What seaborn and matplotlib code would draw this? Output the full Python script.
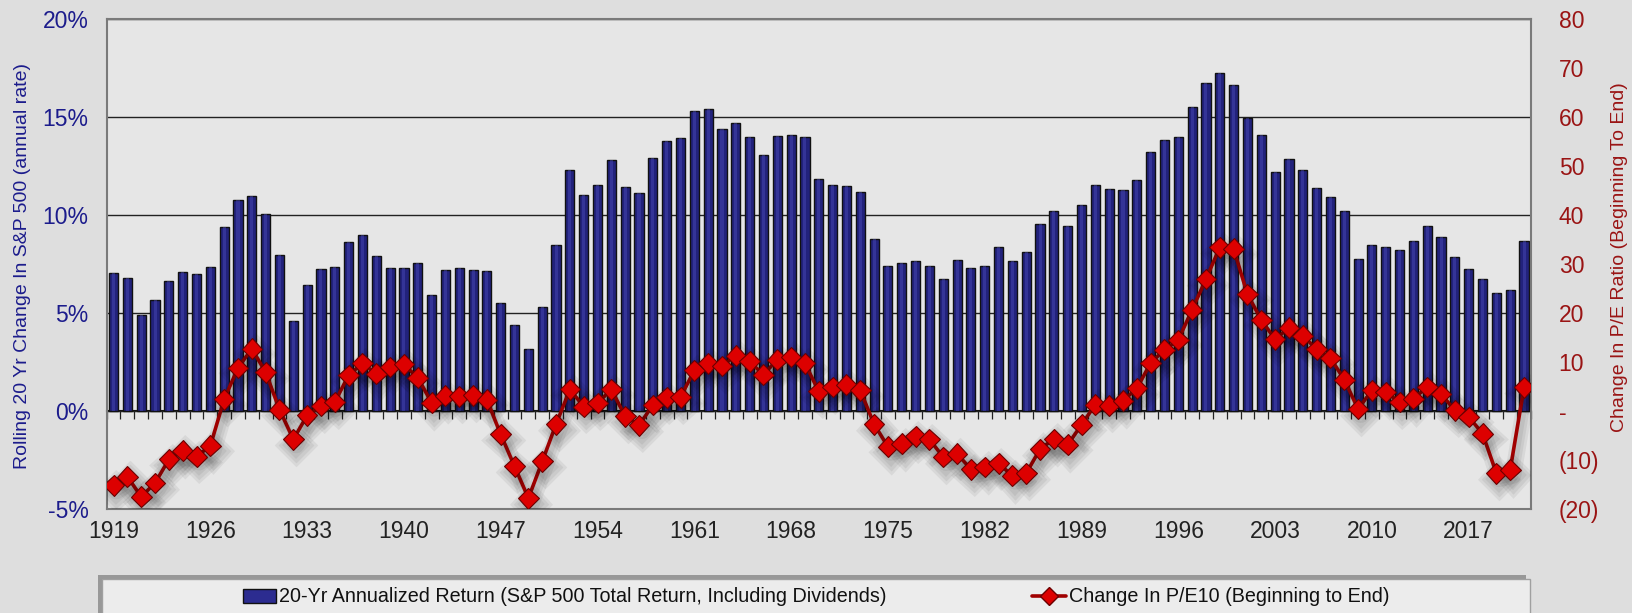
import numpy as np
import pandas as pd
import seaborn as sns
import matplotlib.pyplot as plt
import matplotlib.patheffects as pe
from matplotlib.patches import Rectangle, Patch
from matplotlib.lines import Line2D
from matplotlib.ticker import FuncFormatter

# Rolling 20 yr annualized return (%), one value per year 1919..2021
years = list(range(1919, 2022))
returns = [
    7.05, 6.78, 4.91, 5.67, 6.61, 7.08, 7.00, 7.33, 9.38, 10.78,
    10.97, 10.04, 7.95, 4.59, 6.45, 7.23, 7.35, 8.60, 8.98, 7.90,
    7.31, 7.31, 7.53, 5.90, 7.21, 7.30, 7.17, 7.14, 5.51, 4.40,
    3.14, 5.30, 8.48, 12.28, 11.02, 11.52, 12.79, 11.45, 11.13, 12.90,
    13.75, 13.92, 15.30, 15.42, 14.38, 14.68, 13.98, 13.07, 14.01, 14.10,
    13.96, 11.84, 11.55, 11.47, 11.18, 8.80, 7.40, 7.54, 7.65, 7.42,
    6.73, 7.69, 7.30, 7.40, 8.39, 7.67, 8.09, 9.56, 10.18, 9.43,
    10.53, 11.55, 11.31, 11.29, 11.80, 13.23, 13.83, 13.99, 15.53, 16.71,
    17.26, 16.64, 14.96, 14.08, 12.17, 12.88, 12.28, 11.38, 10.90, 10.19,
    7.76, 8.48, 8.37, 8.23, 8.69, 9.43, 8.89, 7.84, 7.24, 6.71,
    6.02, 6.18, 8.66,
]
# Change in P/E10 over the same 20 yr window
pe_change = [
    -15.2, -13.4, -17.5, -14.7, -9.9, -8.1, -9.3, -7.1, 2.4, 8.8,
    12.7, 7.9, 0.3, -5.8, -0.9, 1.0, 1.8, 7.3, 9.7, 7.6,
    9.0, 9.5, 6.8, 1.7, 3.1, 3.0, 3.2, 2.3, -4.8, -11.3,
    -17.8, -10.3, -2.7, 4.4, 0.9, 1.6, 4.4, -1.1, -2.9, 1.2,
    2.8, 2.8, 8.3, 9.7, 9.2, 11.3, 10.1, 7.4, 10.5, 11.0,
    9.7, 4.0, 4.9, 5.4, 4.2, -2.7, -7.3, -6.7, -5.2, -5.8,
    -9.4, -8.7, -11.9, -11.4, -10.7, -13.2, -12.7, -7.8, -5.7, -6.9,
    -2.8, 1.3, 1.1, 2.1, 4.6, 9.8, 12.5, 14.5, 20.7, 26.9,
    33.4, 33.1, 23.8, 18.6, 14.6, 17.0, 15.4, 12.6, 10.8, 6.4,
    0.4, 4.2, 3.9, 1.8, 2.5, 4.9, 3.5, 0.1, -1.2, -4.6,
    -12.7, -12.0, 4.8,
]
tick_years = list(range(1919, 2018, 7))

df = pd.DataFrame({"year": years, "ret": returns, "pe": pe_change})
df["pos"] = np.arange(len(df))

navy = "#1c1c8c"
darkred = "#9a1414"

sns.set_theme(style="white")
plt.rcParams["font.family"] = ["Liberation Sans", "DejaVu Sans"]

fig = plt.figure(figsize=(16.33, 6.13), dpi=100, facecolor="#dedede")
ax = fig.add_axes([0.0653, 0.1697, 0.8722, 0.7993])
ax.set_facecolor("#e6e6e6")

sns.barplot(data=df, x="year", y="ret", color="#22227c", saturation=1,
            edgecolor="#111111", linewidth=1.0, width=0.66, ax=ax, zorder=2)
sns.barplot(data=df, x="year", y="ret", color="#4a4ab8", saturation=1,
            linewidth=0, width=0.22, alpha=0.45, ax=ax, zorder=3)

ax.set_ylim(-5, 20)
ax.set_xlim(-0.5, len(df) - 0.5)
ax.set_yticks([-5, 0, 5, 10, 15, 20])
ax.yaxis.set_major_formatter(FuncFormatter(lambda v, p: f"{v:.0f}%"))
ax.tick_params(axis="y", length=0, pad=13, labelsize=16.5, labelcolor=navy)
ax.set_xticks([years.index(y) for y in tick_years])
ax.set_xticklabels([str(y) for y in tick_years])
ax.tick_params(axis="x", length=0, pad=8, labelsize=16.5, labelcolor="#222222")
ax.set_xlabel("")
ax.set_ylabel("Rolling 20 Yr Change In S&P 500 (annual rate)", color=navy, fontsize=14)
ax.yaxis.set_label_coords(-0.053, 0.495)
ax.yaxis.grid(True, color="#222222", linewidth=1.0)
ax.set_axisbelow(True)
for s in ax.spines.values():
    s.set_color("#7a7a7a")
    s.set_linewidth(1.5)

# zero line with year tick marks
zero = ax.secondary_xaxis(0.2)
zero.set_xticks(np.arange(len(df) + 1) - 0.5)
zero.set_xticklabels([])
zero.tick_params(axis="x", direction="out", length=6, width=0.9, color="#222222")
zero.spines["bottom"].set_color("#111111")
zero.spines["bottom"].set_linewidth(1.5)

ax2 = ax.twinx()
shadow = [pe.SimpleLineShadow(offset=(2, -4), shadow_color="#000000", alpha=0.06, linewidth=w)
          for w in (12, 8, 4)]
sns.lineplot(data=df, x="pos", y="pe", ax=ax2, color="#a00000", linewidth=2.6,
             marker="D", markersize=10.5, markerfacecolor="#dd0000",
             markeredgecolor="#6a0000", markeredgewidth=0.8,
             path_effects=shadow + [pe.Normal()])
ax2.set_xlim(-0.5, len(df) - 0.5)
ax2.set_ylim(-20, 80)
ax2.set_yticks(range(-20, 81, 10))
ax2.yaxis.set_major_formatter(FuncFormatter(
    lambda v, p: "-" if v == 0 else (f"({abs(v):.0f})" if v < 0 else f"{v:.0f}")))
ax2.tick_params(axis="y", length=0, pad=20, labelsize=16.5, labelcolor=darkred)
ax2.set_ylabel("Change In P/E Ratio (Beginning To End)", color=darkred, fontsize=14)
ax2.yaxis.set_label_coords(1.056, 0.515)
ax2.set_xlabel("")
ax2.grid(False)
for s in ax2.spines.values():
    s.set_visible(False)

# legend box at the bottom
box = Rectangle((0.0625, -0.05), 0.8745, 0.1055, transform=fig.transFigure,
                facecolor="#ececec", edgecolor="#a0a0a0", linewidth=1,
                path_effects=[pe.withSimplePatchShadow(offset=(-3, 3), shadow_rgbFace="#6a6a6a", alpha=0.6)])
fig.patches.append(box)
handles = [
    Patch(facecolor="#2c2c90", edgecolor="#111111"),
    Line2D([], [], color="#a00000", linewidth=2.6, marker="D", markersize=9,
           markerfacecolor="#dd0000", markeredgecolor="#6a0000"),
]
labels = ["20-Yr Annualized Return (S&P 500 Total Return, Including Dividends)",
          "Change In P/E10 (Beginning to End)"]
fig.legend(handles, labels, loc="center", bbox_to_anchor=(816 / 1633, 16 / 613), ncol=2,
           frameon=False, fontsize=14.2, columnspacing=7.4, handlelength=1.7,
           handletextpad=0.15, labelcolor="#111111")

fig.savefig("out.png", dpi=100, facecolor=fig.get_facecolor())
